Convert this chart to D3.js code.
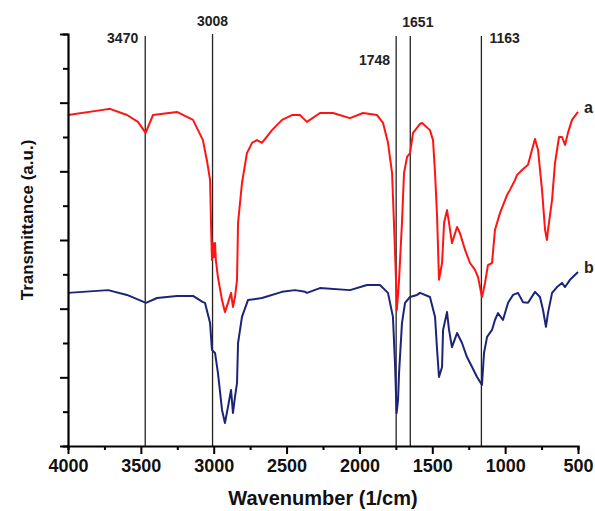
<!DOCTYPE html>
<html>
<head>
<meta charset="utf-8">
<script src="https://cdn.jsdelivr.net/npm/d3@7"></script>
<style>
  body { margin: 0; background: #fff; }
  svg { display: block; font-family: "Liberation Sans", Arial, sans-serif; }
</style>
</head>
<body>
<svg id="chart"></svg>
<script>
// spectrum a (red) : [wavenumber, transmittance a.u.]
const spectrumA = [
  [4000, 9.64], [3760, 9.79], [3712, 9.82], [3595, 9.64], [3520, 9.44], [3467, 9.12],
  [3417, 9.64], [3252, 9.73], [3142, 9.50], [3074, 8.91], [3060, 8.60], [3046, 8.30],
  [3025, 7.75], [3019, 6.58], [3012, 5.42], [3005, 5.91], [2998, 5.50], [2991, 5.91],
  [2985, 5.40], [2971, 4.92], [2943, 4.25], [2923, 3.90], [2902, 4.17], [2881, 4.46],
  [2868, 4.05], [2854, 4.34], [2840, 4.84], [2833, 6.50], [2806, 7.66], [2772, 8.53],
  [2737, 8.83], [2703, 8.91], [2669, 8.83], [2600, 9.20], [2531, 9.50], [2463, 9.64],
  [2408, 9.64], [2387, 9.55], [2360, 9.44], [2271, 9.70], [2181, 9.70], [2065, 9.55],
  [1975, 9.70], [1879, 9.64], [1838, 9.41], [1804, 8.83], [1776, 7.95], [1763, 6.50],
  [1749, 4.84], [1744, 3.96], [1735, 4.40], [1728, 4.84], [1708, 6.50], [1694, 7.95],
  [1673, 8.42], [1653, 8.53], [1632, 9.12], [1584, 9.38], [1570, 9.41], [1516, 9.20],
  [1495, 8.91], [1481, 7.95], [1467, 6.67], [1454, 4.84], [1433, 5.33], [1419, 6.50],
  [1399, 6.87], [1385, 6.50], [1365, 5.91], [1330, 6.38], [1310, 6.20], [1275, 5.71],
  [1241, 5.33], [1207, 5.13], [1186, 4.92], [1159, 4.34], [1138, 4.75], [1118, 5.27],
  [1090, 5.33], [1070, 6.29], [1035, 6.79], [987, 7.31], [967, 7.46], [932, 7.75],
  [919, 7.89], [884, 8.04], [843, 8.19], [816, 8.62], [795, 8.94], [774, 8.62],
  [747, 7.46], [726, 6.29], [713, 6.00], [706, 6.29], [678, 7.17], [658, 8.24],
  [630, 9.00], [610, 9.00], [589, 8.77], [569, 9.12], [541, 9.50], [500, 9.73]
];

// spectrum b (navy)
const spectrumB = [
  [4000, 4.46], [3725, 4.54], [3595, 4.40], [3465, 4.17], [3389, 4.31], [3252, 4.37],
  [3142, 4.37], [3074, 4.19], [3060, 4.17], [3025, 3.58], [3012, 2.80], [2991, 2.71],
  [2971, 2.13], [2943, 1.05], [2923, 0.67], [2902, 1.14], [2881, 1.63], [2868, 0.96],
  [2854, 1.43], [2840, 1.84], [2833, 3.00], [2806, 3.76], [2765, 4.25], [2669, 4.31],
  [2531, 4.49], [2442, 4.54], [2373, 4.49], [2360, 4.46], [2271, 4.60], [2065, 4.54],
  [1948, 4.69], [1859, 4.69], [1804, 4.46], [1770, 3.76], [1756, 2.42], [1745, 0.96],
  [1735, 1.34], [1728, 2.13], [1708, 3.58], [1687, 4.17], [1653, 4.34], [1605, 4.40],
  [1584, 4.46], [1516, 4.34], [1481, 3.76], [1467, 2.80], [1454, 2.01], [1433, 2.30],
  [1426, 3.38], [1399, 3.90], [1385, 3.38], [1365, 2.88], [1330, 3.29], [1296, 3.00],
  [1262, 2.59], [1227, 2.30], [1193, 2.01], [1159, 1.78], [1145, 2.71], [1124, 3.18],
  [1090, 3.38], [1070, 3.67], [1049, 3.87], [1015, 3.67], [980, 4.17], [946, 4.40],
  [912, 4.46], [877, 4.19], [843, 4.17], [795, 4.49], [761, 4.34], [740, 3.96],
  [720, 3.47], [706, 3.87], [678, 4.46], [644, 4.63], [610, 4.75], [589, 4.63],
  [555, 4.84], [500, 5.07]
];

const seriesNames = ["a", "b"];
const peaks = [3470, 3008, 1748, 1651, 1163];
const peakLabels = ["3470", "3008", "1748", "1651", "1163"];
const xTicks = [4000, 3500, 3000, 2500, 2000, 1500, 1000, 500];

// layout only
const peakLayout = [
  { dx: -7, y: 43, anchor: "end" },
  { dx: 0, y: 26, anchor: "middle" },
  { dx: -6, y: 65, anchor: "end" },
  { dx: -8, y: 27, anchor: "start" },
  { dx: 8, y: 43, anchor: "start" }
];
const colors = ["#ff1414", "#1c2478"];

const W = 595, H = 511;
const margin = { top: 34, right: 17, bottom: 65, left: 68 };
const width = W - margin.left - margin.right;
const height = H - margin.top - margin.bottom;

const svg = d3.select("#chart").attr("width", W).attr("height", H);
const chart = svg.append("g").attr("transform", `translate(${margin.left},${margin.top})`);

const xScale = d3.scaleLinear().domain([4000, 500]).range([0, width]);
const yScale = d3.scaleLinear().domain([0, 12]).range([height, 0]);

// peak marker lines
chart.selectAll(".peak")
  .data(peaks)
  .join("line")
    .attr("class", "peak")
    .attr("x1", d => xScale(d))
    .attr("x2", d => xScale(d))
    .attr("y1", (d, i) => i === 1 ? 0 : 2)
    .attr("y2", height)
    .attr("stroke", "#222")
    .attr("stroke-width", 1.3);

chart.selectAll(".peakLabel")
  .data(peaks)
  .join("text")
    .attr("class", "peakLabel")
    .attr("x", (d, i) => xScale(d) + peakLayout[i].dx)
    .attr("y", (d, i) => peakLayout[i].y - margin.top)
    .attr("text-anchor", (d, i) => peakLayout[i].anchor)
    .attr("font-weight", "bold")
    .style("font-size", "14px")
    .attr("fill", "#222")
    .text((d, i) => peakLabels[i]);

const line = d3.line()
  .x(d => xScale(d[0]))
  .y(d => yScale(d[1]));

const spectra = [spectrumA, spectrumB];
chart.selectAll(".spectrum")
  .data(spectra)
  .join("path")
    .attr("class", "spectrum")
    .attr("d", line)
    .attr("fill", "none")
    .attr("stroke", (d, i) => colors[i])
    .attr("stroke-width", 2)
    .attr("stroke-linejoin", "round");

// series letters at the right end of each curve
chart.selectAll(".seriesLabel")
  .data(spectra)
  .join("text")
    .attr("class", "seriesLabel")
    .attr("x", d => xScale(d[d.length - 1][0]) + 6)
    .attr("y", d => yScale(d[d.length - 1][1]) + 1)
    .attr("font-weight", "bold")
    .style("font-size", "16px")
    .attr("fill", "#222")
    .text((d, i) => seriesNames[i]);

// axes
const xAxisG = d3.axisBottom(xScale)
  .tickValues(d3.range(4000, 499, -250))
  .tickSize(4)
  .tickFormat(d => xTicks.includes(d) ? d : "");

const xAxis = chart.append("g")
  .attr("class", "xAxis")
  .attr("transform", `translate(0,${height})`)
  .call(xAxisG);
xAxis.selectAll(".tick line")
  .attr("y2", d => xTicks.includes(d) ? 8 : 4);

const yAxisG = d3.axisLeft(yScale)
  .ticks(12)
  .tickSize(5)
  .tickFormat("");
const yAxis = chart.append("g")
  .attr("class", "yAxis")
  .call(yAxisG);
yAxis.selectAll(".tick line")
  .attr("x2", d => d % 2 === 0 ? -8 : -5);

chart.selectAll(".domain")
  .attr("stroke", "#000")
  .attr("stroke-width", 2.2);
chart.selectAll(".tick line")
  .attr("stroke", "#000")
  .attr("stroke-width", 2);

xAxis.selectAll(".tick text")
  .attr("y", 13)
  .attr("font-weight", "bold")
  .style("font-size", "18px")
  .attr("font-family", "Liberation Sans, Arial, sans-serif")
  .attr("fill", "#111");

svg.append("text")
  .attr("x", margin.left + width / 2)
  .attr("y", 505)
  .attr("text-anchor", "middle")
  .attr("font-weight", "bold")
  .style("font-size", "20px")
  .attr("fill", "#111")
  .text("Wavenumber (1/cm)");

svg.append("text")
  .attr("transform", "rotate(-90)")
  .attr("x", -220)
  .attr("y", 33)
  .attr("text-anchor", "middle")
  .attr("font-weight", "bold")
  .style("font-size", "17px")
  .attr("fill", "#111")
  .text("Transmittance (a.u.)");
</script>
</body>
</html>
